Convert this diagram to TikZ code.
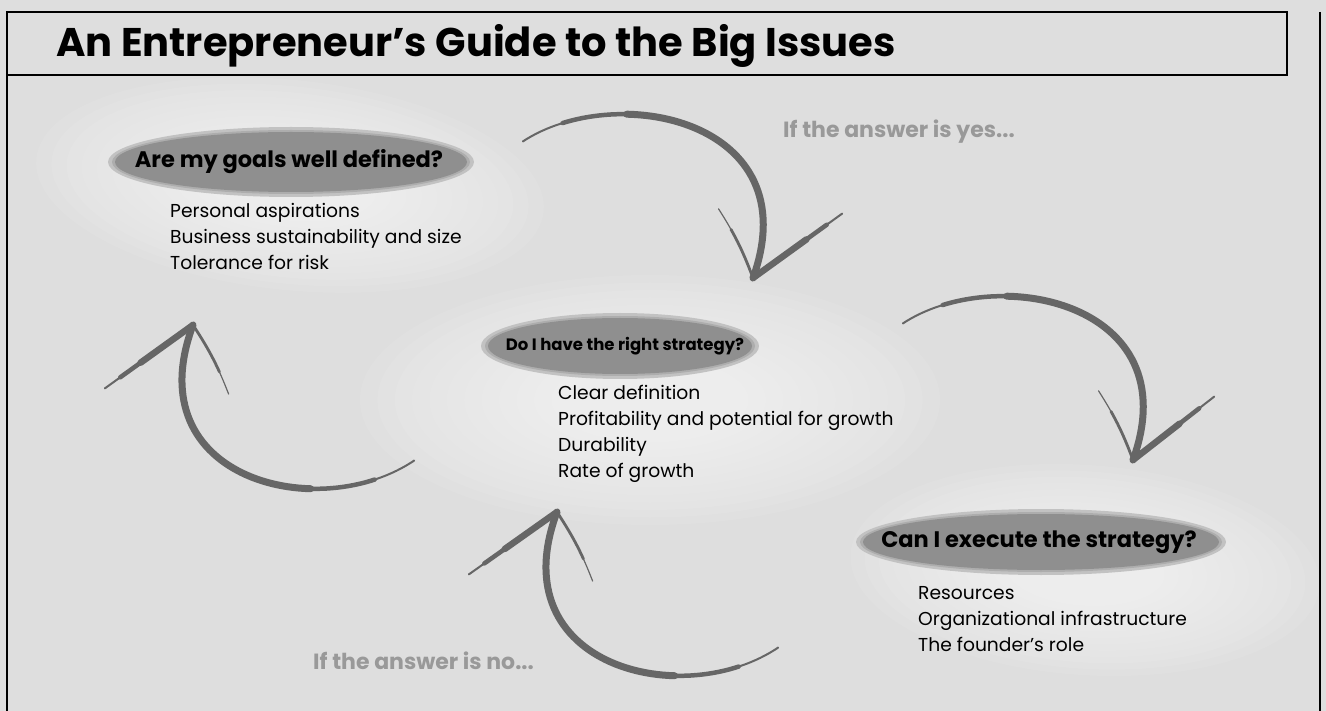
\documentclass[tikz,border=0pt]{standalone}
\usepackage{fontspec}
\setmainfont{Poppins}
\usetikzlibrary{positioning}

\tikzset{
  hdr/.style={font=\bfseries\fontsize{22.5}{26}\selectfont, inner sep=0pt},
  items/.style={font=\fontsize{18.7}{26}\selectfont, align=left, anchor=north west, inner sep=0pt},
  answer/.style={font=\bfseries\fontsize{22}{26}\selectfont, text=black!40, anchor=west, inner sep=0pt},
  arr/.style={draw=black!60, line cap=round},
}
% hand drawn stroke, thin at its start and thick further on
\newcommand{\brush}[2]{%
  \foreach \w/\o in {#1}
    \draw[arr, line width=\w pt, dash pattern=on 3000pt off \o pt, dash phase=3000pt] #2;}

\begin{document}
\begin{tikzpicture}[x=1pt,y=-1pt]
\useasboundingbox (0,0) rectangle (1326,711);
\fill[black!13] (0,0) rectangle (1326,711);

% light spray behind each question
\foreach \cx/\cy/\rx/\ry/\r in {290/185/255/105/-6, 650/400/290/125/0, 1085/570/235/105/-4}
  \foreach \k in {1.0,0.94,...,0.34}
    \fill[white, opacity=0.07, rotate around={\r:(\cx,\cy)}] (\cx,\cy) ellipse [x radius=\k*\rx, y radius=\k*\ry];

% dark ellipses under the questions
\foreach \cx/\cy/\rx/\ry in {291/162/176/30, 620/346/132/28, 1041/542/178/28} {
  \fill[black!24] (\cx,\cy) ellipse [x radius=\rx+7, y radius=\ry+5];
  \fill[black!32] (\cx,\cy) ellipse [x radius=\rx+3, y radius=\ry+2];
  \fill[black!44] (\cx,\cy) ellipse [x radius=\rx, y radius=\ry];
}

% title bar and frame
\draw[line width=1.2pt] (7,12) rectangle (1287,75);
\draw[line width=1.2pt] (7,75) -- (7,711);
\draw[line width=1.2pt] (1320,12) -- (1320,711);
\node[anchor=base west, inner sep=0pt, font=\bfseries\fontsize{40}{44}\selectfont] (title) at (56,57)
  {An Entrepreneur’s Guide to the Big Issues};

\node[hdr] (goals) at (289,162) {Are my goals well defined?};
\node[items] (goalsList) at (170,203) {Personal aspirations\\Business sustainability and size\\Tolerance for risk};

\node[hdr, font=\bfseries\fontsize{16.5}{20}\selectfont] (strategy) at (625,346) {Do I have the right strategy?};
\node[items] (strategyList) at (558,385) {Clear definition\\Profitability and potential for growth\\Durability\\Rate of growth};

\node[hdr] (execute) at (1039,542) {Can I execute the strategy?};
\node[items] (executeList) at (918,586) {Resources\\Organizational infrastructure\\The founder’s role};

\node[answer] (yesText) at (783,132) {If the answer is yes...};
\node[answer] (noText) at (313,661) {If the answer is no...};

% arrow ends
\coordinate (yesA) at (522,142);  \coordinate (yesB) at (753,278);
\coordinate (yesL) at (718,208);  \coordinate (yesR) at (843,213);
\coordinate (goA) at (902,324);   \coordinate (goB) at (1133,460);
\coordinate (goL) at (1098,390);  \coordinate (goR) at (1215,396);
\coordinate (backA) at (415,460); \coordinate (backB) at (193,325);
\coordinate (backL) at (104,389); \coordinate (backR) at (229,395);
\coordinate (noA) at (779,647);   \coordinate (noB) at (557,512);
\coordinate (noL) at (468,575);   \coordinate (noR) at (593,582);

% goals -> strategy
\brush{2/1, 4.5/45, 7/110}{(yesA) .. controls +(93,-62) and +(57,-158) .. (yesB)}
\brush{2/1, 4.5/20, 6.5/45}{(yesR) -- (yesB)}
\brush{1.2/1, 2.8/25}{(yesL) to[bend left=6] (yesB)}
% strategy -> execute
\brush{2/1, 4.5/45, 7/110}{(goA) .. controls +(93,-62) and +(57,-158) .. (goB)}
\brush{2/1, 4.5/20, 6.5/45}{(goR) -- (goB)}
\brush{1.2/1, 2.8/25}{(goL) to[bend left=6] (goB)}
% strategy -> goals
\brush{2/1, 4.5/45, 7/110}{(backA) .. controls +(-95,65) and +(-58,155) .. (backB)}
\brush{2/1, 4.5/20, 6.5/45}{(backL) -- (backB)}
\brush{1.2/1, 2.8/25}{(backR) to[bend right=6] (backB)}
% execute -> strategy
\brush{2/1, 4.5/45, 7/110}{(noA) .. controls +(-95,65) and +(-58,155) .. (noB)}
\brush{2/1, 4.5/20, 6.5/45}{(noL) -- (noB)}
\brush{1.2/1, 2.8/25}{(noR) to[bend right=6] (noB)}
\end{tikzpicture}
\end{document}
